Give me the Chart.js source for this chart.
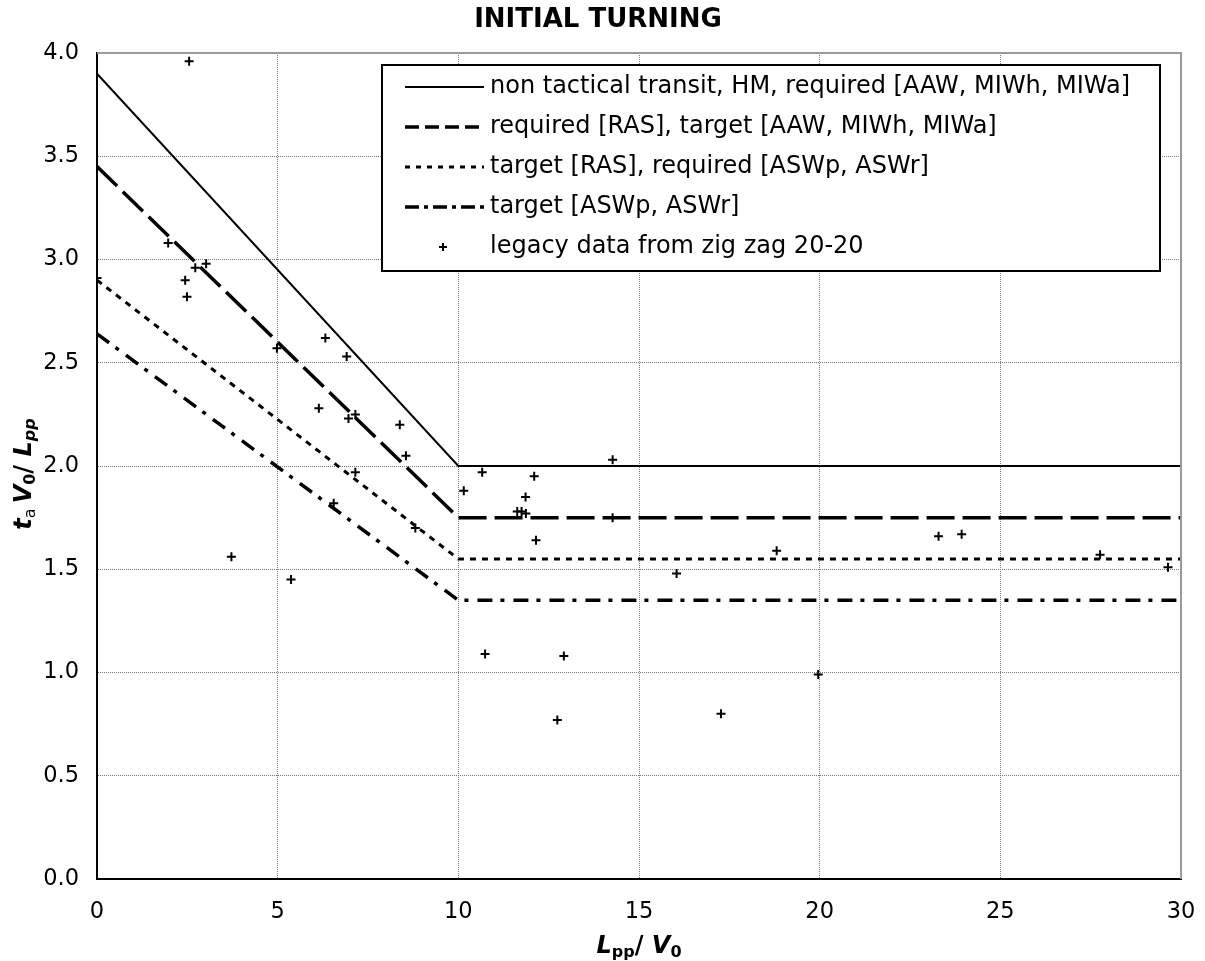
<!DOCTYPE html>
<html>
<head>
<meta charset="utf-8">
<script src="https://cdn.jsdelivr.net/npm/chart.js@4.4.0/dist/chart.umd.min.js"></script>
<style>
  html, body { margin: 0; padding: 0; background: #fff; }
</style>
</head>
<body>
<canvas id="turning" width="1205" height="961"></canvas>
<script>
// break points shared by the four limit lines
var line_x = [0, 10, 30];
var transit_y = [3.9, 2.0, 2.0];
var ras_req_y = [3.45, 1.75, 1.75];
var ras_tgt_y = [2.9, 1.55, 1.55];
var asw_tgt_y = [2.64, 1.35, 1.35];

// legacy data from zig zag 20-20
var legacy_x = [2.55, 3.02, 2.72, 1.97, 0.0, 2.44, 2.49, 6.32, 6.91, 4.98,
                6.14, 7.15, 6.96, 8.38, 8.55, 7.15, 6.55, 8.81, 3.72, 5.37,
                14.27, 10.66, 10.15, 12.1, 11.86, 11.63, 11.75, 11.87, 14.27, 12.15,
                18.81, 16.04, 10.74, 12.92, 12.74, 17.27, 19.96, 23.29, 23.93, 27.76,
                29.64];
var legacy_y = [3.96, 2.98, 2.96, 3.08, 2.91, 2.90, 2.82, 2.62, 2.53, 2.57,
                2.28, 2.25, 2.23, 2.20, 2.05, 1.97, 1.82, 1.70, 1.56, 1.45,
                2.03, 1.97, 1.88, 1.95, 1.85, 1.78, 1.78, 1.77, 1.75, 1.64,
                1.59, 1.48, 1.09, 1.08, 0.77, 0.80, 0.99, 1.66, 1.67, 1.57,
                1.51];

// axis ticks
var x_ticks = [0, 5, 10, 15, 20, 25, 30];
var y_ticks = [0, 0.5, 1.0, 1.5, 2.0, 2.5, 3.0, 3.5, 4.0];

var labels = ['non tactical transit, HM, required [AAW, MIWh, MIWa]',
              'required [RAS], target [AAW, MIWh, MIWa]',
              'target [RAS], required [ASWp, ASWr]',
              'target [ASWp, ASWr]',
              'legacy data from zig zag 20-20'];

var FONT = "'DejaVu Sans', Verdana, sans-serif";

// zip x and y lists into chart.js points
function to_points(xs, ys){
  var pts = [];
  for(var i = 0; i < xs.length; ++i)
    pts.push({x: xs[i], y: ys[i]});
  return pts;
}

function limit_line(label, ys, dash, legend_dash, width, order){
  return {
    label: label,
    data: to_points(line_x, ys),
    showLine: true,
    borderColor: '#000',
    borderWidth: width,
    borderDash: dash,
    legendDash: legend_dash,
    pointRadius: 0,
    fill: false,
    tension: 0,
    order: order
  };
}

var datasets = [
  {
    label: labels[4],
    data: to_points(legacy_x, legacy_y),
    pointStyle: 'cross',
    pointRadius: 4.5,
    borderColor: '#000',
    borderWidth: 2,
    showLine: false,
    order: 0
  },
  limit_line(labels[0], transit_y, [], [], 2, 1),
  limit_line(labels[1], ras_req_y, [28, 8], [14, 6], 3.5, 2),
  limit_line(labels[2], ras_tgt_y, [6, 6], [5, 6], 3, 3),
  limit_line(labels[3], asw_tgt_y, [15, 8, 4, 9], [14, 5, 4, 5], 3.5, 4)
];

// draw a run of text pieces with different fonts (for subscripts)
function draw_runs(ctx, runs, x, y){
  var total = 0;
  runs.forEach(r => { ctx.font = r.font; total += ctx.measureText(r.text).width; });
  var cx = x - total / 2;
  runs.forEach(r => {
    ctx.font = r.font;
    ctx.fillText(r.text, cx, y + (r.dy || 0));
    cx += ctx.measureText(r.text).width;
  });
}

var decor = {
  id: 'decor',
  afterDraw: function(chart){
    var ctx = chart.ctx;
    var a = chart.chartArea;
    ctx.save();

    // grey frame on top and right
    ctx.strokeStyle = '#9a9a9a';
    ctx.lineWidth = 2;
    ctx.beginPath();
    ctx.moveTo(a.left, a.top);
    ctx.lineTo(a.right, a.top);
    ctx.lineTo(a.right, a.bottom);
    ctx.stroke();

    // title
    ctx.fillStyle = '#000';
    ctx.textAlign = 'center';
    ctx.textBaseline = 'alphabetic';
    ctx.font = 'bold 26px ' + FONT;
    ctx.fillText('INITIAL TURNING', 598, 27);

    // x axis title
    ctx.textAlign = 'left';
    var big = 'bold italic 24px ' + FONT;
    var sub = 'bold 16px ' + FONT;
    draw_runs(ctx, [
      {text: 'L', font: big},
      {text: 'pp', font: sub, dy: 4},
      {text: '/ ', font: 'bold 24px ' + FONT},
      {text: 'V', font: big},
      {text: '0', font: sub, dy: 4}
    ], 639, 953);

    // y axis title
    ctx.save();
    ctx.translate(31, 474);
    ctx.rotate(-Math.PI / 2);
    draw_runs(ctx, [
      {text: 't', font: big},
      {text: 'a ', font: '16px ' + FONT, dy: 4},
      {text: 'V', font: big},
      {text: '0', font: sub, dy: 4},
      {text: '/ ', font: 'bold 24px ' + FONT},
      {text: 'L', font: big},
      {text: 'pp', font: 'bold italic 16px ' + FONT, dy: 4}
    ], 0, 0);
    ctx.restore();

    // legend box inside the plot
    var bx = 382, by = 65, bw = 778, bh = 206;
    ctx.fillStyle = '#fff';
    ctx.fillRect(bx, by, bw, bh);
    ctx.strokeStyle = '#000';
    ctx.lineWidth = 2;
    ctx.strokeRect(bx, by, bw, bh);

    var order = [1, 2, 3, 4, 0];
    ctx.font = '24px ' + FONT;
    ctx.textBaseline = 'middle';
    order.forEach((idx, row) => {
      var ds = chart.data.datasets[idx];
      var y = 87 + row * 40;
      ctx.strokeStyle = '#000';
      if(ds.showLine){
        ctx.lineWidth = ds.borderWidth;
        ctx.setLineDash(ds.legendDash);
        ctx.beginPath();
        ctx.moveTo(405, y);
        ctx.lineTo(484, y);
        ctx.stroke();
        ctx.setLineDash([]);
      } else {
        ctx.lineWidth = 2;
        ctx.beginPath();
        ctx.moveTo(443 - 4, y); ctx.lineTo(443 + 4, y);
        ctx.moveTo(443, y - 4); ctx.lineTo(443, y + 4);
        ctx.stroke();
      }
      ctx.fillStyle = '#000';
      ctx.textAlign = 'left';
      ctx.fillText(ds.label, 490, y);
    });

    ctx.restore();
  }
};

var ctx = document.getElementById('turning');
var myChart = new Chart(ctx, {
  type: 'scatter',
  data: { datasets: datasets },
  plugins: [decor],
  options: {
    responsive: false,
    animation: false,
    devicePixelRatio: 1,
    layout: { padding: { top: 53, right: 24, left: 0, bottom: 0 } },
    plugins: {
      legend: { display: false },
      title: { display: false },
      tooltip: { enabled: false }
    },
    scales: {
      x: {
        type: 'linear',
        min: 0, max: 30,
        afterBuildTicks: function(scale){ scale.ticks = x_ticks.map(v => ({value: v})); },
        afterFit: function(scale){
          scale.height = 82;
          scale.paddingLeft = 0;
          scale.paddingRight = 0;
        },
        grid: { color: '#7a7a7a', lineWidth: 1, drawTicks: false },
        border: { color: '#000', width: 2, dash: [1, 1] },
        ticks: { color: '#000', font: { family: FONT, size: 22.5 }, padding: 20, maxRotation: 0 }
      },
      y: {
        type: 'linear',
        min: 0, max: 4,
        afterBuildTicks: function(scale){ scale.ticks = y_ticks.map(v => ({value: v})); },
        afterFit: function(scale){ scale.width = 97; },
        grid: { color: '#7a7a7a', lineWidth: 1, drawTicks: false },
        border: { color: '#000', width: 2, dash: [1, 1] },
        ticks: {
          color: '#000', font: { family: FONT, size: 22.5 }, padding: 18,
          callback: function(v){ return v.toFixed(1); }
        }
      }
    }
  }
});
</script>
</body>
</html>
